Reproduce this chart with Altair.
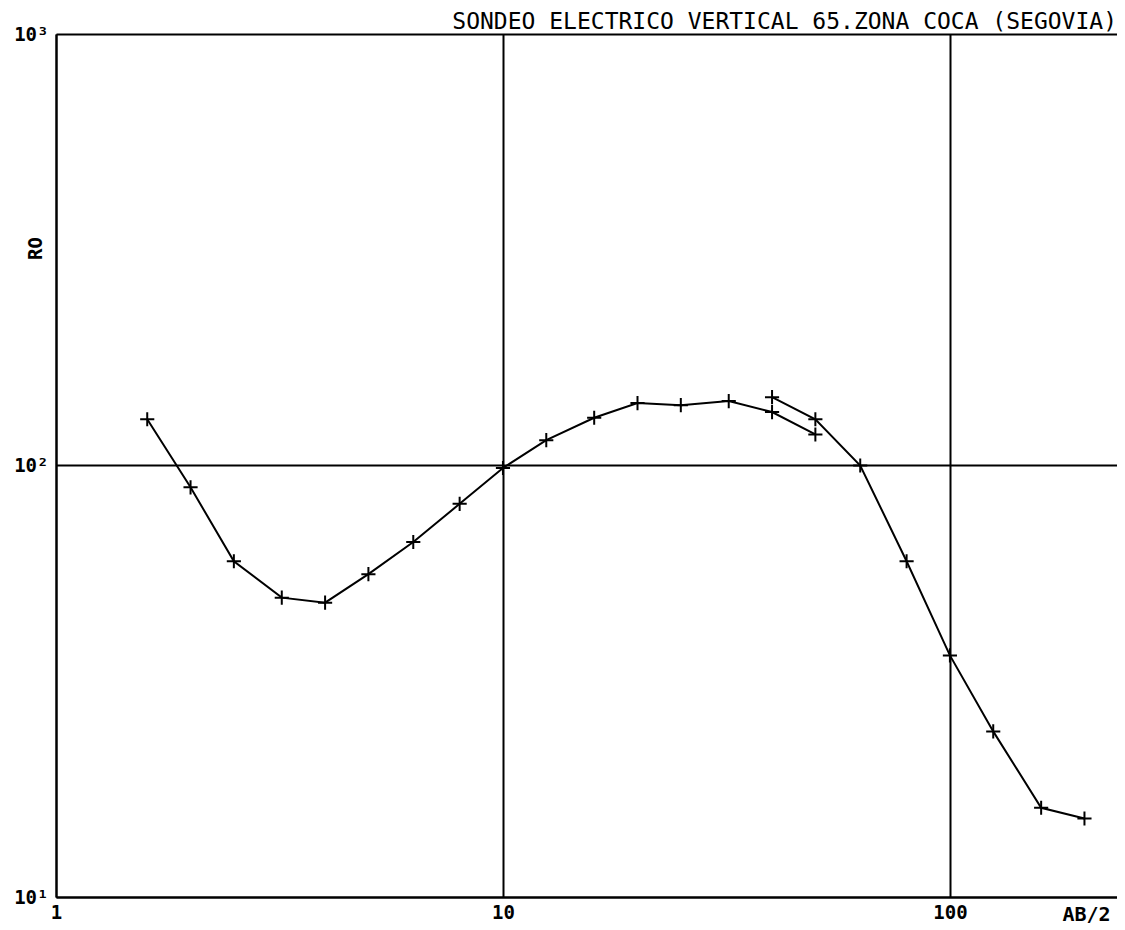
import altair as alt
import pandas as pd

# AB/2 spacing and apparent resistivity, branch 1 and branch 2
seg1_x = [1.6, 2, 2.5, 3.2, 4, 5, 6.3, 8, 10, 12.5, 16, 20, 25, 32, 40, 50]
seg1_y = [128, 89, 60, 49.4, 48.1, 56, 66.5, 81.5, 98.7, 114.5, 129, 139.5, 138, 141, 133, 118]
seg2_x = [40, 50, 63, 80, 100, 125, 160, 200]
seg2_y = [144, 128, 100, 60, 36.3, 24.2, 16.1, 15.2]

x_ticks = [1, 10, 100]
y_ticks = [10, 100, 1000]

title_text = "SONDEO ELECTRICO VERTICAL 65.ZONA COCA (SEGOVIA)"
x_title = "AB/2"
y_title = "RO"

df = pd.concat([
    pd.DataFrame({"ab2": seg1_x, "ro": seg1_y, "seg": "1", "ord": range(len(seg1_x))}),
    pd.DataFrame({"ab2": seg2_x, "ro": seg2_y, "seg": "2", "ord": range(len(seg2_x))}),
])

FONT = "DejaVu Sans Mono"

x_enc = alt.X(
    "ab2:Q",
    scale=alt.Scale(type="log", domain=[1, 236.5], nice=False),
    axis=alt.Axis(
        values=x_ticks, format="d", title=x_title, grid=True,
        gridColor="black", gridWidth=2, gridOpacity=1,
        domainColor="black", domainWidth=2, ticks=False,
        labelFont=FONT, labelFontSize=19, labelFontWeight="bold", labelColor="black",
        labelPadding=6, labelFlush=False, labelOverlap=False, labelBound=False,
        titleFont=FONT, titleFontSize=20, titleFontWeight="bold", titleColor="black",
        titleX=1006, titleY=17, titleAlign="left", titleBaseline="middle", titleAnchor="start",
    ),
)
y_enc = alt.Y(
    "ro:Q",
    scale=alt.Scale(type="log", domain=[10, 1000], nice=False),
    axis=alt.Axis(
        values=y_ticks, title=y_title, grid=True,
        labelExpr="datum.value == 10 ? '10¹' : datum.value == 100 ? '10²' : '10³'",
        gridColor="black", gridWidth=2, gridOpacity=1,
        domainColor="black", domainWidth=2, ticks=False,
        labelFont=FONT, labelFontSize=19, labelFontWeight="bold", labelColor="black",
        labelPadding=8, labelFlush=False, labelOverlap=False, labelBound=False,
        labelBaseline="middle",
        titleFont=FONT, titleFontSize=19, titleFontWeight="bold", titleColor="black",
        titleX=-21, titleY=214, titleAngle=270, titleAlign="center", titleBaseline="middle",
        titleAnchor="start",
    ),
)

base = alt.Chart(df)

lines = base.mark_line(color="black", strokeWidth=2).encode(
    x=x_enc, y=y_enc, detail="seg:N", order="ord:Q"
)
points = base.mark_point(
    shape="M -1 0 L 1 0 M 0 -1 L 0 1",
    filled=False, color="black", strokeWidth=2, size=200, opacity=1,
).encode(x=x_enc, y=y_enc)

chart = (
    alt.layer(lines, points)
    .properties(
        width=1061,
        height=863,
        title=alt.TitleParams(
            title_text, anchor="end", font=FONT, fontSize=23, fontWeight="normal",
            color="black", offset=0, dy=9,
        ),
        padding={"left": 48, "top": 26, "right": 0, "bottom": 30},
        autosize=alt.AutoSizeParams(type="none"),
    )
    .configure_view(stroke=None)
    .configure(background="white")
)

chart.save("out.html", embed_options={"renderer": "svg", "actions": False})
